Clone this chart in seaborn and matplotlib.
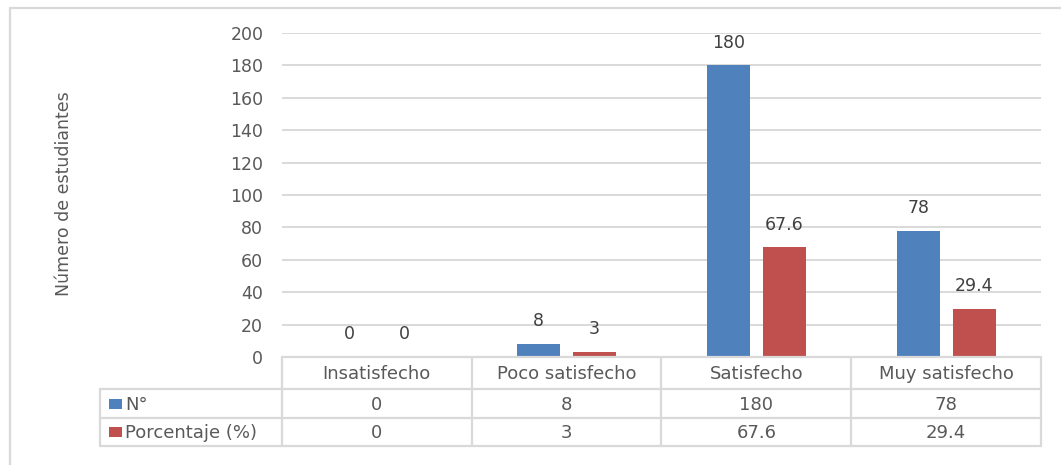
import matplotlib
matplotlib.use("Agg")
import matplotlib.pyplot as plt
import seaborn as sns
import pandas as pd
from matplotlib.lines import Line2D
from matplotlib.patches import Rectangle

categories = ["Insatisfecho", "Poco satisfecho", "Satisfecho", "Muy satisfecho"]
series_names = ["N°", "Porcentaje (%)"]
n_values = [0, 8, 180, 78]
pct_values = [0, 3, 67.6, 29.4]
y_ticks = [0, 20, 40, 60, 80, 100, 120, 140, 160, 180, 200]
y_label = "Número de estudiantes"
colors = ["#4F81BD", "#C0504D"]

sns.set_style("white")
plt.rcParams["font.family"] = ["DejaVu Sans"]

df = pd.DataFrame({
    "cat": categories * 2,
    "serie": [series_names[0]] * 4 + [series_names[1]] * 4,
    "val": n_values + pct_values,
})

W, H = 1061, 465
fig = plt.figure(figsize=(W / 100, H / 100), dpi=100)

def fx(px):
    return px / W

def fy(py):
    return 1 - py / H

# outer frame
fig.add_artist(Line2D([fx(10), 1.0], [fy(8.5), fy(8.5)], color="#D9D9D9", lw=1.6))
fig.add_artist(Line2D([fx(10), fx(10)], [fy(8.5), 0.0], color="#D9D9D9", lw=1.6))

left, right, top, bottom = 282, 1041, 33, 357
ax = fig.add_axes([fx(left), fy(bottom), fx(right) - fx(left), fy(top) - fy(bottom)])
sns.barplot(data=df, x="cat", y="val", hue="serie", palette=colors, order=categories,
            hue_order=series_names, width=0.589, gap=0.232, ax=ax, legend=False,
            linewidth=0, saturation=1)
ax.set_xlim(-0.5, 3.5)
ax.set_ylim(0, 200)
ax.set_yticks(y_ticks)
ax.set_yticklabels([str(t) for t in y_ticks], fontsize=12.5, color="#595959")
ax.set_xticks([])
ax.set_xlabel("")
ax.set_ylabel("")
ax.yaxis.grid(True, color="#D9D9D9", lw=1.4)
ax.set_axisbelow(True)
for s in ax.spines.values():
    s.set_visible(False)
ax.tick_params(axis="y", length=0, pad=13.5)

for cont in ax.containers:
    ax.bar_label(cont, labels=[f"{v:g}" for v in cont.datavalues], padding=10,
                 fontsize=12.5, color="#404040")

fig.text(fx(64), fy(194), y_label, rotation=90, ha="center", va="center",
         fontsize=12.5, color="#595959")

# data table
tl, tr, tt, tb = 100, 1041, 357, 446
col_w = (right - left) / 4
L = (left - tl) / col_w
tax = fig.add_axes([fx(tl), fy(tb), fx(tr) - fx(tl), fy(tt) - fy(tb)])
tax.set_xlim(-0.5 - L, 3.5)
tax.set_ylim(tb, tt)
tax.axis("off")
lc, lw = "#D9D9D9", 1.6
rows_y = [357, 389, 418, 446]
tax.plot([-0.5, 3.5], [rows_y[0]] * 2, color=lc, lw=lw, clip_on=False)
for yy in rows_y[1:]:
    tax.plot([-0.5 - L, 3.5], [yy] * 2, color=lc, lw=lw, clip_on=False)
tax.plot([-0.5 - L] * 2, [rows_y[1], rows_y[3]], color=lc, lw=lw, clip_on=False)
for xx in [-0.5, 0.5, 1.5, 2.5, 3.5]:
    tax.plot([xx] * 2, [rows_y[0], rows_y[3]], color=lc, lw=lw, clip_on=False)

tc = "#595959"
fs = 13
for i, c in enumerate(categories):
    tax.text(i, (rows_y[0] + rows_y[1]) / 2 + 1, c, ha="center", va="center", fontsize=fs, color=tc)
    tax.text(i, (rows_y[1] + rows_y[2]) / 2 + 1, f"{n_values[i]:g}", ha="center", va="center", fontsize=fs, color=tc)
    tax.text(i, (rows_y[2] + rows_y[3]) / 2 + 1, f"{pct_values[i]:g}", ha="center", va="center", fontsize=fs, color=tc)

key_x0 = -0.5 - L + 9 / col_w
key_w = 13 / col_w
for j, name in enumerate(series_names):
    ymid = (rows_y[j + 1] + rows_y[j + 2]) / 2
    tax.add_patch(Rectangle((key_x0, ymid - 5), key_w, 10, color=colors[j], lw=0))
    tax.text(key_x0 + key_w + 3 / col_w, ymid + 1, name, ha="left", va="center", fontsize=fs, color=tc)

fig.savefig("out.png", dpi=100)
